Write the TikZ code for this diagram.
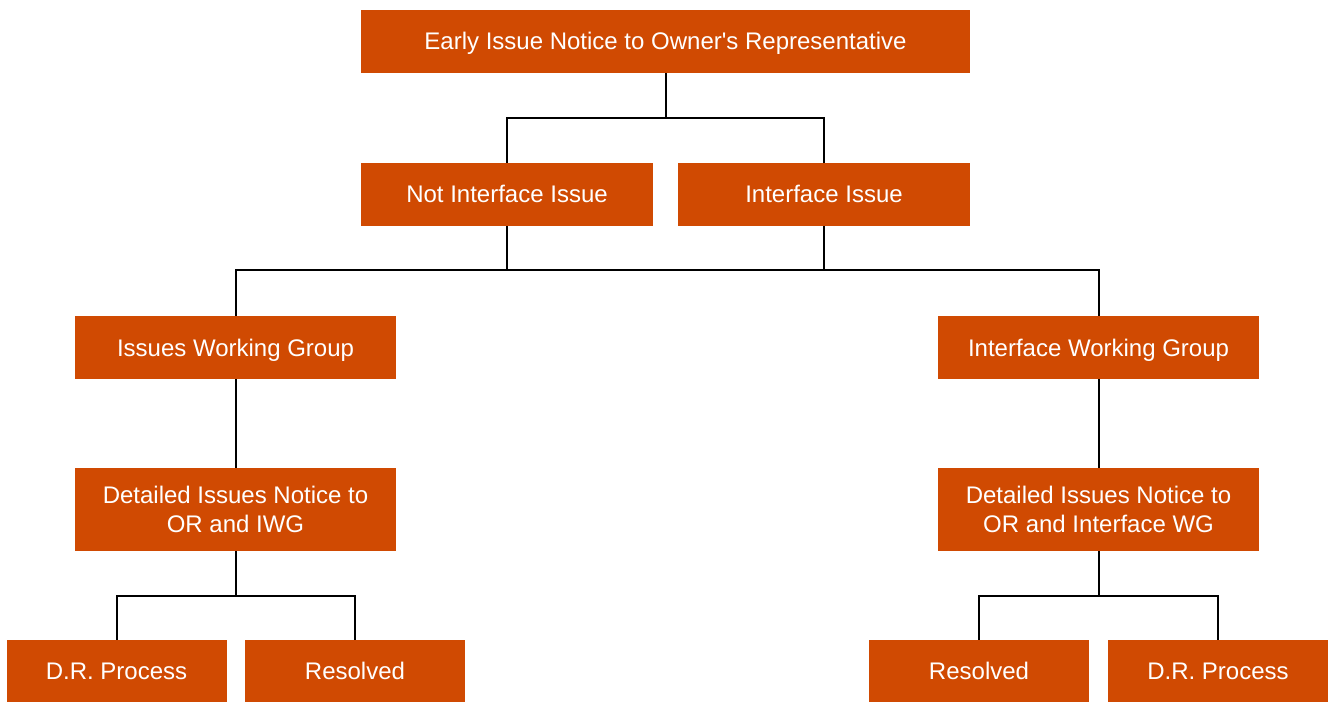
\documentclass[tikz,border=0pt]{standalone}
\usepackage{fontspec}
\setmainfont{Liberation Sans}[Ligatures=TeXOff]
\usetikzlibrary{shapes,arrows}
\definecolor{pwcorange}{RGB}{208,74,2}
\tikzstyle{block} = [rectangle, fill=pwcorange, text=white, text centered, inner sep=0pt, minimum height=63pt, font=\fontsize{24}{29}\selectfont, align=center, text height=17pt, text depth=0pt]
\tikzstyle{wide} = [block, minimum width=321pt]
\tikzstyle{twoline} = [wide, minimum height=83pt, text height=46pt]
\tikzstyle{leaf} = [block, minimum width=220pt, minimum height=62pt]
\tikzstyle{line} = [draw, line width=2pt, black]

\begin{document}
\begin{tikzpicture}[x=1pt,y=-1pt]
\useasboundingbox (0,0) rectangle (1330,703);

\node [block, minimum width=609pt] (notice) at (665.5,41.5) {Early Issue Notice to Owner's Representative};

\node [block, minimum width=292pt] (notif) at (507,194.5) {Not Interface Issue};
\node [block, minimum width=292pt] (intf) at (824,194.5) {Interface Issue};

\node [wide] (iwg) at (235.5,347.5) {Issues Working Group};
\node [wide] (intwg) at (1098.5,347.5) {Interface Working Group};

\node [twoline] (detl) at (235.5,509.5) {Detailed Issues Notice to\\OR and IWG};
\node [twoline] (detr) at (1098.5,509.5) {Detailed Issues Notice to\\OR and Interface WG};

\node [leaf] (drl) at (116.5,671) {D.R. Process};
\node [leaf] (resl) at (355,671) {Resolved};
\node [leaf] (resr) at (979,671) {Resolved};
\node [leaf] (drr) at (1218,671) {D.R. Process};

% connectors
\path [line] (notice.south) -- ++(0,45) -| (notif.north);
\path [line] (notice.south) -- ++(0,45) -| (intf.north);

\path [line] (notif.south) -- ++(0,44) -| (iwg.north);
\path [line] (notif.south) -- ++(0,44) -| (intf.south);
\path [line] (intf.south) -- ++(0,44) -| (intwg.north);

\path [line] (iwg) -- (detl);
\path [line] (intwg) -- (detr);

\path [line] (detl.south) -- ++(0,45) -| (drl.north);
\path [line] (detl.south) -- ++(0,45) -| (resl.north);
\path [line] (detr.south) -- ++(0,45) -| (resr.north);
\path [line] (detr.south) -- ++(0,45) -| (drr.north);

\end{tikzpicture}
\end{document}
